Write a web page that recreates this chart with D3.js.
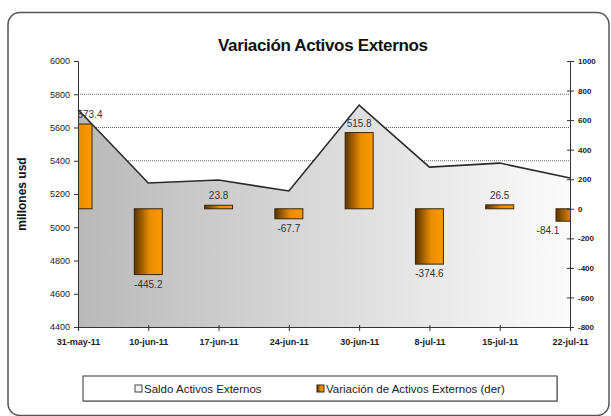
<!DOCTYPE html>
<html><head><meta charset="utf-8">
<script src="https://cdn.jsdelivr.net/npm/d3@7/dist/d3.min.js"></script>
<style>body{margin:0;background:#fff}svg{display:block;font-family:"Liberation Sans",Arial,sans-serif}</style>
</head><body><svg id="c" width="611" height="416"></svg>
<script>
const categories = ["31-may-11","10-jun-11","17-jun-11","24-jun-11","30-jun-11","8-jul-11","15-jul-11","22-jul-11"];
const saldo = [5708, 5266, 5284, 5218, 5735, 5362, 5386, 5296];
const variacion = [573.4, -445.2, 23.8, -67.7, 515.8, -374.6, 26.5, -84.1];
const leftTicks = [4400,4600,4800,5000,5200,5400,5600,5800,6000];
const rightTicks = [-800,-600,-400,-200,0,200,400,600,800,1000];

const hy = s => s.replace("\u2212","-");
const svg = d3.select("#c");
const L = 78, R = 570, T = 61, B = 327;
const x = d3.scalePoint().domain(categories).range([L, R]);
const yL = d3.scaleLinear().domain([4400, 6000]).range([B, T]);
const yR = d3.scaleLinear().domain([-800, 1000]).range([B, T]);

const defs = svg.append("defs");
const ag = defs.append("linearGradient").attr("id","areaG").attr("x1","0").attr("x2","1").attr("y1","0").attr("y2","0");
ag.append("stop").attr("offset","0%").attr("stop-color","#b9b9b9");
ag.append("stop").attr("offset","100%").attr("stop-color","#fbfbfb");
const bg = defs.append("linearGradient").attr("id","barG").attr("x1","0").attr("x2","1").attr("y1","0").attr("y2","0");
bg.append("stop").attr("offset","0%").attr("stop-color","#5a3300");
bg.append("stop").attr("offset","55%").attr("stop-color","#e88c00");
bg.append("stop").attr("offset","100%").attr("stop-color","#ff9a00");
defs.append("clipPath").attr("id","plotClip").append("rect").attr("x",L).attr("y",T).attr("width",R-L).attr("height",B-T);

// outer border
svg.append("rect").attr("x",8).attr("y",12.5).attr("width",601).attr("height",403)
  .attr("rx",12).attr("fill","none").attr("stroke","#555").attr("stroke-width",1.5);

// title
svg.append("text").attr("x",323).attr("y",51).attr("text-anchor","middle")
  .attr("font-size",17).attr("font-weight","bold").attr("fill","#111").attr("textLength",210).text("Variación Activos Externos");

// grid lines
svg.append("g").selectAll("line").data(leftTicks.filter(d=>d>4400 && d<6000)).join("line")
  .attr("x1",L).attr("x2",R).attr("y1",d=>yL(d)).attr("y2",d=>yL(d))
  .attr("stroke","#666").attr("stroke-width",1).attr("stroke-dasharray","1,1");

// area
const area = d3.area().x((d,i)=>x(categories[i])).y0(B).y1(d=>yL(d));
svg.append("path").datum(saldo).attr("d",area).attr("fill","url(#areaG)");
const line = d3.line().x((d,i)=>x(categories[i])).y(d=>yL(d));
svg.append("path").datum(saldo).attr("d",line).attr("fill","none").attr("stroke","#2a2a2a").attr("stroke-width",1.6);

// bars
const bw = 28;
svg.append("g").attr("clip-path","url(#plotClip)").selectAll("rect").data(variacion).join("rect")
  .attr("x",(d,i)=>x(categories[i])-bw/2).attr("width",bw)
  .attr("y",d=>yR(Math.max(0,d))).attr("height",d=>Math.abs(yR(d)-yR(0)))
  .attr("fill","url(#barG)").attr("stroke","#3a2608").attr("stroke-width",1);

// bar labels
const lblX = (d,i)=> i===0 ? x(categories[i])+12 : (i===categories.length-1 ? x(categories[i])-22 : x(categories[i]));
svg.append("g").selectAll("text").data(variacion).join("text")
  .attr("x",lblX)
  .attr("y",d=> d>=0 ? yR(d)-6 : yR(d)+13)
  .attr("text-anchor","middle").attr("font-size",10).attr("fill","#333")
  .text(d=>hy(d3.format(".1f")(d)));

// left axis
const gl = svg.append("g").attr("transform",`translate(${L},0)`)
  .call(d3.axisLeft(yL).tickValues(leftTicks).tickSize(4).tickPadding(4).tickFormat(d=>String(d)));
gl.select(".domain").attr("stroke","#333");
gl.selectAll(".tick line").attr("stroke","#333");
gl.selectAll("text").attr("font-size",9).attr("fill","#222").attr("font-family","Liberation Sans, Arial, sans-serif");

// right axis
const gr = svg.append("g").attr("transform",`translate(${R},0)`)
  .call(d3.axisRight(yR).tickValues(rightTicks).tickSize(4).tickPadding(4).tickFormat(d=>String(d)));
gr.select(".domain").attr("stroke","#333");
gr.selectAll(".tick line").attr("stroke","#333").attr("x1",-3);
gr.selectAll("text").attr("font-size",8).attr("font-weight","bold").attr("fill","#222").attr("font-family","Liberation Sans, Arial, sans-serif");

// x axis
const gx = svg.append("g").attr("transform",`translate(0,${B})`)
  .call(d3.axisBottom(x).tickSize(4).tickPadding(8));
gx.select(".domain").attr("stroke","#333");
gx.selectAll(".tick line").attr("stroke","#333").attr("y1",-2);
gx.selectAll("text").attr("font-size",9).attr("font-weight","bold").attr("fill","#222").attr("font-family","Liberation Sans, Arial, sans-serif");

// y axis title
svg.append("text").attr("transform","translate(26,194) rotate(-90)").attr("text-anchor","middle")
  .attr("font-size",12).attr("font-weight","bold").attr("fill","#111").text("millones usd");

// legend
const lg = svg.append("g");
lg.append("rect").attr("x",84).attr("y",377).attr("width",474).attr("height",25).attr("fill","#bbb");
lg.append("rect").attr("x",83).attr("y",376).attr("width",474).attr("height",25).attr("fill","#fff").attr("stroke","#333");
lg.append("rect").attr("x",135).attr("y",385).attr("width",7).attr("height",7).attr("fill","#f4f4f4").attr("stroke","#444");
lg.append("text").attr("x",144).attr("y",392.5).attr("font-size",11.5).attr("fill","#222").text("Saldo Activos Externos");
lg.append("rect").attr("x",317).attr("y",385).attr("width",7).attr("height",7).attr("fill","url(#barG)").attr("stroke","#3a2608");
lg.append("text").attr("x",326).attr("y",392.5).attr("font-size",11.5).attr("fill","#222").text("Variación de Activos Externos (der)");
</script></body></html>
